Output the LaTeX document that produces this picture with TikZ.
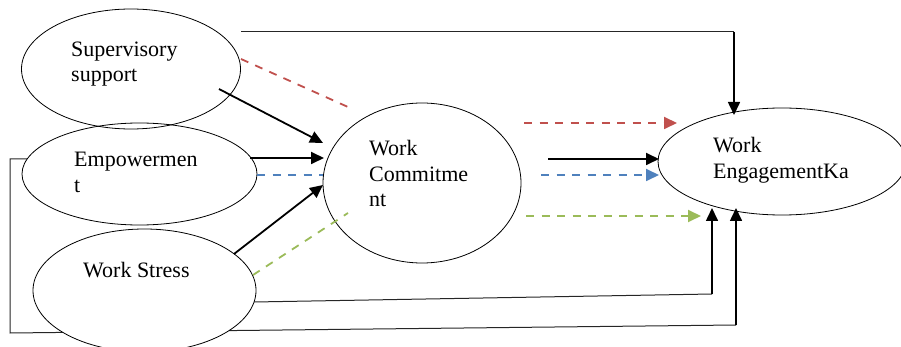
\documentclass[tikz,border=0pt]{standalone}
\usepackage{fontspec}
\setmainfont{Liberation Serif}
\usetikzlibrary{arrows.meta,shapes.geometric}
\definecolor{pathred}{RGB}{192,80,77}
\definecolor{pathblue}{RGB}{79,129,189}
\definecolor{pathgreen}{RGB}{155,187,89}
\begin{document}
\begin{tikzpicture}[x=1pt,y=-1pt,
  oval/.style={draw, ellipse, line width=0.8pt, inner sep=0pt},
  label/.style={anchor=base west, inner sep=0pt, font=\fontsize{22}{25}\selectfont},
  wire/.style={line width=1pt, black!85},
  tip/.style={-{Triangle[length=13pt,width=12pt]}},
  strong/.style={tip, line width=1.8pt},
  upline/.style={tip, line width=1.6pt},
  dashpath/.style={line width=1.8pt, dash pattern=on 8pt off 7.5pt},
]
\useasboundingbox (0,0) rectangle (901,347);

% end points of the connectors
\coordinate (eL) at (27,159);
\coordinate (l1) at (10,159);
\coordinate (l2) at (10,333);
\coordinate (l3) at (736,325);
\coordinate (l4) at (736,208);
\coordinate (s0) at (254,302);
\coordinate (s1) at (712,294);
\coordinate (s2) at (712,208);
\coordinate (t0) at (241,32);
\coordinate (t1) at (734,32);
\coordinate (t2) at (734,115);

% feedback lines running under the Work Stress oval
\draw[wire] (eL) -- (l1) -- (l2) -- (l3);
\draw[upline] (l3) -- (l4);
\draw[wire] (s0) -- (s1);
\draw[upline] (s1) -- (s2);

% ovals
\node[oval, minimum width=219pt, minimum height=120pt] (sup) at (131,69) {};
\node[oval, minimum width=235pt, minimum height=102pt] (emp) at (139.5,174) {};
\node[oval, fill=white, minimum width=223pt, minimum height=123pt] (str) at (144.5,290.5) {};
\node[oval, minimum width=198pt, minimum height=160pt] (com) at (422,183) {};
\node[oval, minimum width=248pt, minimum height=107pt] (eng) at (782,161.5) {};

% labels
\node[label] (sup1) at (71,57) {Supervisory};
\node[label] (sup2) at (71,82) {support};
\node[label] (emp1) at (74,167) {Empowermen};
\node[label] (emp2) at (74,193) {t};
\node[label] (str1) at (83,277) {Work Stress};
\node[label] (com1) at (369,156) {Work};
\node[label] (com2) at (369,182) {Commitme};
\node[label] (com3) at (369,207) {nt};
\node[label] (eng1) at (713,153) {Work};
\node[label] (eng2) at (713,179) {EngagementKa};

% direct path from Supervisory support
\draw[wire] (t0) -- (t1);
\draw[upline] (t1) -- (t2);

% paths into Work Commitment
\coordinate (a0) at (219,89);   \coordinate (a1) at (323,143);
\coordinate (b0) at (250,158);  \coordinate (b1) at (324,158);
\coordinate (c0) at (234,254);  \coordinate (c1) at (323,185);
\draw[strong] (a0) -- (a1);
\draw[strong] (b0) -- (b1);
\draw[strong] (c0) -- (c1);

% mediation paths (dashed)
\coordinate (r0) at (241,59);   \coordinate (r1) at (348,107);
\coordinate (u0) at (257,175);  \coordinate (u1) at (323,175);
\coordinate (g0) at (253,275);  \coordinate (g1) at (348,213);
\draw[dashpath, pathred] (r0) -- (r1);
\draw[dashpath, pathblue] (u0) -- (u1);
\draw[dashpath, pathgreen] (g0) -- (g1);

% paths into Work Engagement
\coordinate (r2) at (524,123);  \coordinate (r3) at (677,123);
\coordinate (k0) at (548,159);  \coordinate (k1) at (659,159);
\coordinate (u2) at (541,175);  \coordinate (u3) at (659,175);
\coordinate (g2) at (526,216);  \coordinate (g3) at (701,216);
\draw[dashpath, pathred, tip] (r2) -- (r3);
\draw[strong] (k0) -- (k1);
\draw[dashpath, pathblue, tip] (u2) -- (u3);
\draw[dashpath, pathgreen, tip] (g2) -- (g3);
\end{tikzpicture}
\end{document}
